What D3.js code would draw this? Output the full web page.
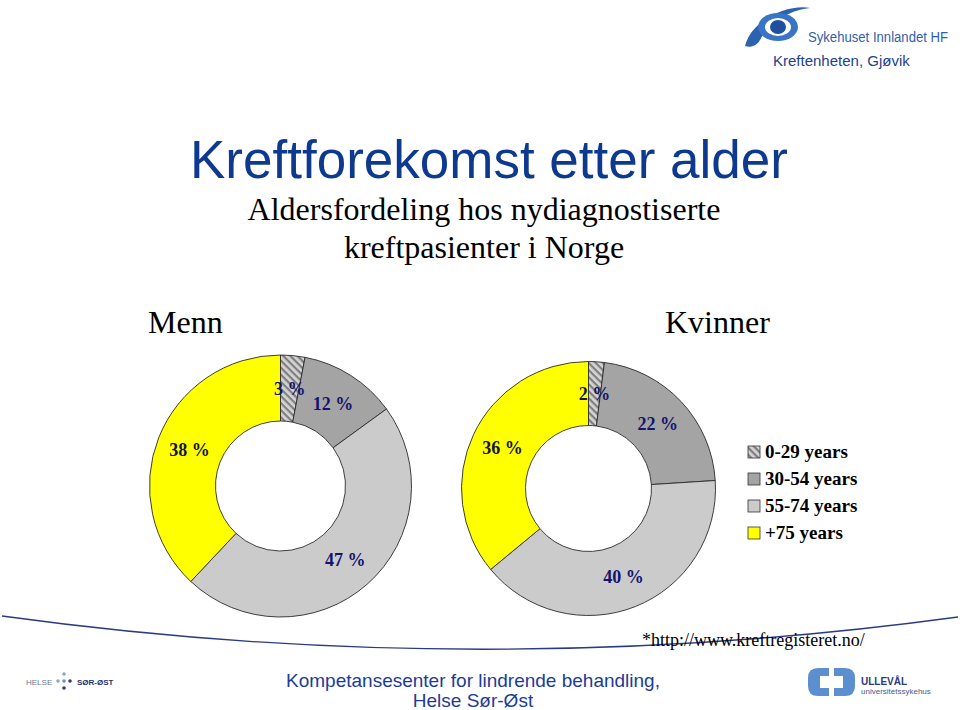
<!DOCTYPE html>
<html>
<head>
<meta charset="utf-8">
<script src="https://cdn.jsdelivr.net/npm/d3@7"></script>
<style>
  body { margin: 0; background: #fff; }
  svg { display: block; }
</style>
</head>
<body>
<div id="d3"></div>
<script>
const ageGroups = ['0-29 years', '30-54 years', '55-74 years', '+75 years'];
const menValues = [3, 12, 47, 38];
const womenValues = [2, 22, 40, 36];
const groupTitles = ['Menn', 'Kvinner'];

const width = 960;
const height = 710;

const svg = d3.select('#d3')
  .append('svg')
  .attr('width', width)
  .attr('height', height);

// hatch for the youngest group
const defs = svg.append('defs');
const hatch = defs.append('pattern')
  .attr('id', 'hatch')
  .attr('patternUnits', 'userSpaceOnUse')
  .attr('width', 5)
  .attr('height', 5)
  .attr('patternTransform', 'rotate(45)');
hatch.append('rect').attr('width', 5).attr('height', 5).attr('fill', '#d4d4d4');
hatch.append('rect').attr('width', 5).attr('height', 2.2).attr('fill', '#7f7f7f');

const color = d3.scaleOrdinal()
  .domain(ageGroups)
  .range(['url(#hatch)', '#a4a4a4', '#cbcbcb', '#ffff00']);

// header
svg.append('text')
  .attr('x', 489).attr('y', 178)
  .attr('text-anchor', 'middle')
  .attr('font-family', 'Liberation Sans, Arial, sans-serif')
  .attr('font-size', 53)
  .attr('fill', '#0d3a8e')
  .text('Kreftforekomst etter alder');

svg.append('g')
  .attr('font-family', 'Liberation Serif, Times New Roman, serif')
  .attr('font-size', 32)
  .attr('text-anchor', 'middle')
  .attr('fill', '#000')
  .selectAll('text')
  .data(['Aldersfordeling hos nydiagnostiserte', 'kreftpasienter i Norge'])
  .join('text')
  .attr('x', 484)
  .attr('y', (d, i) => 220 + i * 38)
  .text((d) => d);

svg.append('g')
  .attr('font-family', 'Liberation Serif, Times New Roman, serif')
  .attr('font-size', 32)
  .attr('fill', '#000')
  .selectAll('text')
  .data(groupTitles)
  .join('text')
  .attr('x', (d, i) => (i === 0 ? 148 : 665))
  .attr('y', 333)
  .text((d) => d);

// donuts
const pie = d3.pie().sort(null).value((d) => d.value);
const donuts = [
  { values: menValues, cx: 280.5, cy: 486, r: 131, r0: 65 },
  { values: womenValues, cx: 588.5, cy: 488.5, r: 127, r0: 63 }
];

donuts.forEach((dn) => {
  const arc = d3.arc().innerRadius(dn.r0).outerRadius(dn.r);
  const labelArc = d3.arc().innerRadius((dn.r0 + dn.r) / 2).outerRadius((dn.r0 + dn.r) / 2);
  const data = pie(dn.values.map((v, i) => ({ key: ageGroups[i], value: v })));
  const g = svg.append('g').attr('transform', `translate(${dn.cx},${dn.cy})`);

  g.selectAll('path')
    .data(data)
    .join('path')
    .attr('d', arc)
    .attr('fill', (d) => color(d.data.key))
    .attr('stroke', '#2a2a2a')
    .attr('stroke-width', 0.9);

  g.selectAll('text')
    .data(data)
    .join('text')
    .attr('transform', (d) => `translate(${labelArc.centroid(d)})`)
    .attr('text-anchor', 'middle')
    .attr('dy', '0.35em')
    .attr('font-family', 'Liberation Serif, Times New Roman, serif')
    .attr('font-weight', 'bold')
    .attr('font-size', 18)
    .attr('fill', (d) => (d.data.key === '+75 years' ? '#14143c' : '#14146e'))
    .text((d) => `${d.data.value} %`);
});

// legend
const legend = svg.append('g').attr('transform', 'translate(748,446)');
const rows = legend.selectAll('g')
  .data(ageGroups)
  .join('g')
  .attr('transform', (d, i) => `translate(0,${i * 27})`);
rows.append('rect')
  .attr('width', 12).attr('height', 12)
  .attr('fill', (d) => color(d))
  .attr('stroke', '#333')
  .attr('stroke-width', 0.8);
rows.append('text')
  .attr('x', 17).attr('y', 12)
  .attr('font-family', 'Liberation Serif, Times New Roman, serif')
  .attr('font-weight', 'bold')
  .attr('font-size', 19)
  .attr('fill', '#000')
  .text((d) => d);

// logo top right
const logo = svg.append('g');
logo.append('path')
  .attr('d', 'M745,46 C752,18 790,4 810,8 C792,10 770,20 760,40 C757,46 750,48 745,46 Z')
  .attr('fill', '#2c62b0');
logo.append('ellipse')
  .attr('cx', 778).attr('cy', 27).attr('rx', 20).attr('ry', 14)
  .attr('fill', '#3a74c4');
logo.append('ellipse')
  .attr('cx', 778).attr('cy', 27).attr('rx', 13).attr('ry', 9)
  .attr('fill', '#fff');
logo.append('ellipse')
  .attr('cx', 778).attr('cy', 27).attr('rx', 8).attr('ry', 7)
  .attr('fill', '#1f4f9e');
logo.append('text')
  .attr('x', 808).attr('y', 42)
  .attr('font-family', 'Liberation Sans, Arial, sans-serif')
  .attr('font-size', 14)
  .attr('textLength', 140)
  .attr('lengthAdjust', 'spacingAndGlyphs')
  .attr('fill', '#2f5fae')
  .text('Sykehuset Innlandet HF');
logo.append('text')
  .attr('x', 773).attr('y', 66)
  .attr('font-family', 'Liberation Sans, Arial, sans-serif')
  .attr('font-size', 15)
  .attr('fill', '#1c3f8e')
  .text('Kreftenheten, Gjøvik');

// footer curve and source
svg.append('path')
  .attr('d', 'M2,616 Q480,682 958,617')
  .attr('fill', 'none')
  .attr('stroke', '#2b3a85')
  .attr('stroke-width', 1.3);

svg.append('text')
  .attr('x', 642).attr('y', 646)
  .attr('font-family', 'Liberation Serif, Times New Roman, serif')
  .attr('font-size', 18)
  .attr('fill', '#000')
  .text('*http://www.kreftregisteret.no/');

svg.append('g')
  .attr('font-family', 'Liberation Sans, Arial, sans-serif')
  .attr('font-size', 19)
  .attr('text-anchor', 'middle')
  .attr('fill', '#1d3c97')
  .selectAll('text')
  .data(['Kompetansesenter for lindrende behandling,', 'Helse Sør-Øst'])
  .join('text')
  .attr('x', 473)
  .attr('y', (d, i) => 687 + i * 20)
  .text((d) => d);

// Helse Sør-Øst logo
const hso = svg.append('g');
hso.append('text')
  .attr('x', 26).attr('y', 685)
  .attr('font-family', 'Liberation Sans, Arial, sans-serif')
  .attr('font-size', 8)
  .attr('fill', '#6a7590')
  .text('HELSE');
[[58, 681, '#8aa6cc'], [64, 681, '#6a8cc0'], [70, 681, '#2a3f7e'], [64, 674, '#8aa6cc'], [64, 688, '#2a3f7e']]
  .forEach(([x, y, c]) => {
    hso.append('circle').attr('cx', x).attr('cy', y).attr('r', 1.8).attr('fill', c);
  });
hso.append('text')
  .attr('x', 77).attr('y', 685)
  .attr('font-family', 'Liberation Sans, Arial, sans-serif')
  .attr('font-size', 8)
  .attr('font-weight', 'bold')
  .attr('fill', '#2a3470')
  .text('SØR-ØST');

// Ullevål logo
const ull = svg.append('g');
ull.append('path')
  .attr('d', 'M829,668 L818,668 Q808,668 808,678 L808,686 Q808,696 818,696 L829,696 L829,688 L820,688 L820,676 L829,676 Z')
  .attr('fill', '#5b8fd0');
ull.append('path')
  .attr('d', 'M834,668 L845,668 Q855,668 855,678 L855,686 Q855,696 845,696 L834,696 L834,688 L843,688 L843,676 L834,676 Z')
  .attr('fill', '#5b8fd0');
ull.append('text')
  .attr('x', 861).attr('y', 685)
  .attr('font-family', 'Liberation Sans, Arial, sans-serif')
  .attr('font-size', 10)
  .attr('font-weight', 'bold')
  .attr('fill', '#2a3a7a')
  .text('ULLEVÅL');
ull.append('text')
  .attr('x', 861).attr('y', 694)
  .attr('font-family', 'Liberation Sans, Arial, sans-serif')
  .attr('font-size', 8)
  .attr('fill', '#4a5a8a')
  .text('universitetssykehus');
</script>
</body>
</html>
